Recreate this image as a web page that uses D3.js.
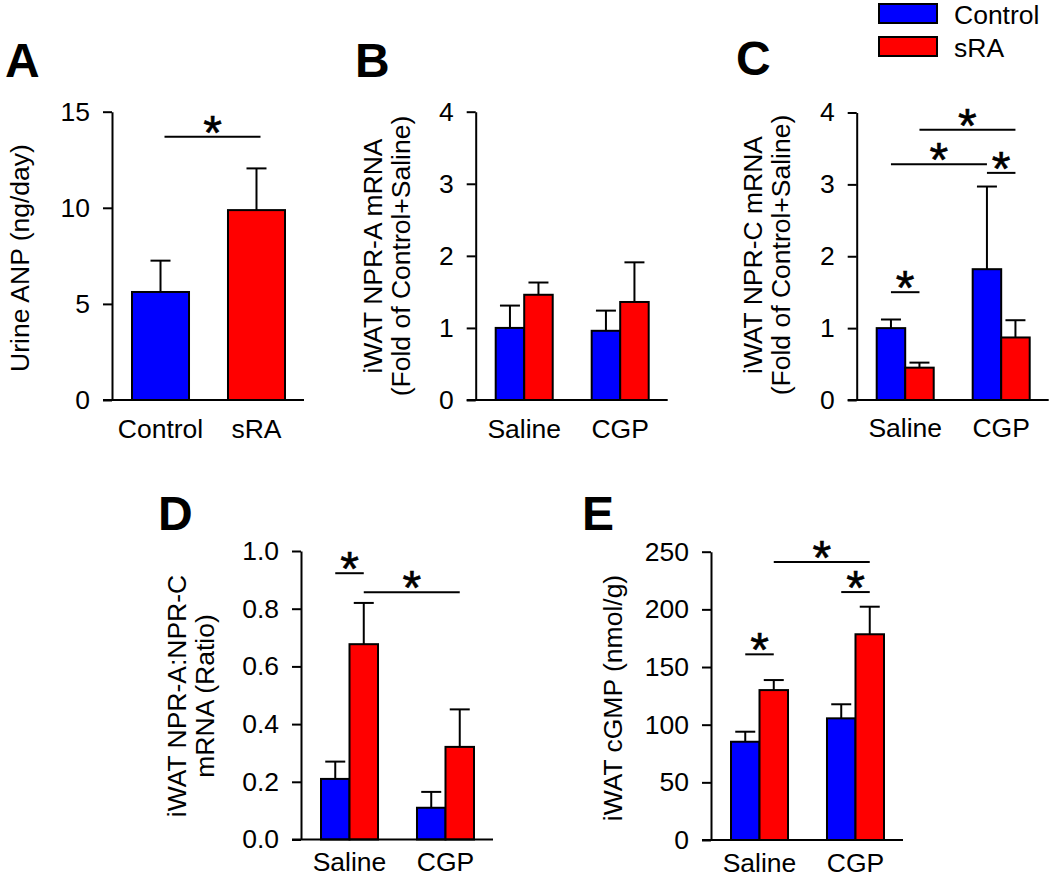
<!DOCTYPE html>
<html><head><meta charset="utf-8">
<script src="https://cdn.jsdelivr.net/npm/d3@7"></script>
<style>body{margin:0;background:#fff} svg{display:block} text{font-family:Arial,"Liberation Sans",sans-serif;}</style>
</head><body><svg id="c" width="1050" height="877"></svg>
<script>
// ---------- data ----------
const seriesNames = ["Control", "sRA"];
const seriesColors = ["#0000ff", "#ff0000"];
const treatments = ["Saline", "CGP"];

// Panel A: Urine ANP
const groupsA = ["Control", "sRA"];
const meanA = [5.62, 9.88];
const semA = [1.63, 2.17];
const ticksA = [0, 5, 10, 15];
const sigA = [["Control", "sRA", 13.7]];

// Panel B: iWAT NPR-A mRNA
const controlB = [1.00, 0.96];
const controlSemB = [0.31, 0.28];
const sraB = [1.46, 1.36];
const sraSemB = [0.17, 0.55];
const ticksB = [0, 1, 2, 3, 4];
const sigB = [];

// Panel C: iWAT NPR-C mRNA
const controlC = [1.00, 1.82];
const controlSemC = [0.12, 1.15];
const sraC = [0.45, 0.87];
const sraSemC = [0.07, 0.24];
const ticksC = [0, 1, 2, 3, 4];
const sigC = [
  ["Saline", "Control", "Saline", "sRA", 1.50],
  ["Saline", "Control", "CGP", "Control", 3.28],
  ["CGP", "Control", "CGP", "sRA", 3.16],
  ["Saline", "sRA", "CGP", "sRA", 3.76]
];

// Panel D: NPR-A:NPR-C ratio
const controlD = [0.21, 0.11];
const controlSemD = [0.06, 0.055];
const sraD = [0.677, 0.321];
const sraSemD = [0.143, 0.13];
const ticksD = [0, 0.2, 0.4, 0.6, 0.8, 1.0];
const sigD = [
  ["Saline", "Control", "Saline", "sRA", 0.923],
  ["Saline", "sRA", "CGP", "sRA", 0.857]
];

// Panel E: iWAT cGMP
const controlE = [85.2, 105.5];
const controlSemE = [8.7, 12.2];
const sraE = [130, 178.4];
const sraSemE = [8.7, 23.9];
const ticksE = [0, 50, 100, 150, 200, 250];
const sigE = [
  ["Saline", "Control", "Saline", "sRA", 161],
  ["CGP", "Control", "CGP", "sRA", 215],
  ["Saline", "sRA", "CGP", "sRA", 241]
];

// ---------- drawing ----------
const svg = d3.select("#c");
const FS = 26.5;
const AXW = 192;

function panelFrame(o) {
  const g = svg.append("g");
  const y = d3.scaleLinear().domain([0, o.yMax]).range([o.y0, o.yTop]);
  g.append("text").attr("x", o.letterX).attr("y", o.letterY)
    .attr("font-size", 48).attr("font-weight", "bold").text(o.letter);
  o.labelLines.forEach((t, i) => {
    g.append("text")
      .attr("transform", `translate(${o.labelBase[i]},${o.labelY}) rotate(-90)`)
      .attr("text-anchor", "middle").attr("font-size", FS).text(t);
  });
  const ya = g.append("g").attr("transform", `translate(${o.axisX},0)`)
    .call(d3.axisLeft(y).tickValues(o.ticks).tickFormat(o.fmt || d3.format("d"))
      .tickSize(9).tickPadding(13).tickSizeOuter(0));
  ya.select(".domain").attr("stroke-width", 2);
  ya.selectAll(".tick line").attr("stroke-width", 2);
  ya.selectAll(".tick text").attr("font-size", FS).attr("font-family", "Arial, 'Liberation Sans', sans-serif");
  return {g, y};
}

function xAxis(g, o, xs) {
  const xa = g.append("g").attr("transform", `translate(0,${o.y0})`)
    .call(d3.axisBottom(xs).tickSize(0).tickPadding(o.xPad));
  xa.select(".domain").remove();
  xa.selectAll(".tick text").attr("font-size", FS).attr("font-family", "Arial, 'Liberation Sans', sans-serif");
  g.append("line").attr("x1", o.axisX - 9).attr("x2", o.axisX + AXW)
    .attr("y1", o.y0).attr("y2", o.y0).attr("stroke", "#000").attr("stroke-width", 2);
}

function drawBars(g, y, bars, y0) {
  bars.forEach(b => {
    g.append("line").attr("x1", b.x + b.w / 2).attr("x2", b.x + b.w / 2)
      .attr("y1", y(b.v)).attr("y2", y(b.v + b.e)).attr("stroke", "#000").attr("stroke-width", 2);
    g.append("line").attr("x1", b.x + b.w / 2 - 10).attr("x2", b.x + b.w / 2 + 10)
      .attr("y1", y(b.v + b.e)).attr("y2", y(b.v + b.e)).attr("stroke", "#000").attr("stroke-width", 2);
    g.append("rect").attr("x", b.x).attr("y", y(b.v)).attr("width", b.w).attr("height", y0 - y(b.v))
      .attr("fill", b.c).attr("stroke", "#000").attr("stroke-width", 2);
  });
}

function drawSig(g, x1, x2, yy) {
  g.append("line").attr("x1", x1).attr("x2", x2).attr("y1", yy).attr("y2", yy)
    .attr("stroke", "#000").attr("stroke-width", 2);
  g.append("text").attr("x", (x1 + x2) / 2).attr("y", yy + 12)
    .attr("text-anchor", "middle").attr("font-size", 48)
    .attr("stroke", "#000").attr("stroke-width", 0.6)
    .attr("font-family", "'Liberation Serif','Times New Roman',serif").text("*");
}

// Panel A
(function () {
  const o = {letter: "A", letterX: 5, letterY: 77, axisX: 112, yTop: 111.7, y0: 400, yMax: 15, xPad: 19,
    ticks: ticksA, labelLines: ["Urine ANP (ng/day)"], labelBase: [29], labelY: 258};
  const {g, y} = panelFrame(o);
  const xs = d3.scaleBand().domain(groupsA).range([o.axisX + 20, o.axisX + 173]).paddingInner(0.406);
  const bars = groupsA.map((k, i) => ({x: xs(k), w: xs.bandwidth(), v: meanA[i], e: semA[i], c: seriesColors[i]}));
  drawBars(g, y, bars, o.y0);
  xAxis(g, o, xs);
  sigA.forEach(s => drawSig(g, xs(s[0]) + xs.bandwidth() / 2 + 4, xs(s[1]) + xs.bandwidth() / 2 + 4, y(s[2])));
})();

function grouped(o, ctrl, ctrlSem, sra, sraSem, sigs) {
  const {g, y} = panelFrame(o);
  const xo = d3.scaleBand().domain(treatments).range([o.axisX + 20, o.axisX + 173]).paddingInner(0.406);
  const xi = d3.scaleBand().domain(seriesNames).range([0, xo.bandwidth()]);
  const vals = [ctrl, sra], sems = [ctrlSem, sraSem];
  const bars = [];
  treatments.forEach((t, ti) => seriesNames.forEach((s, si) => {
    bars.push({x: xo(t) + xi(s), w: xi.bandwidth(), v: vals[si][ti], e: sems[si][ti], c: seriesColors[si]});
  }));
  drawBars(g, y, bars, o.y0);
  xAxis(g, o, xo);
  const cx = (t, s) => xo(t) + xi(s) + xi.bandwidth() / 2;
  sigs.forEach(s => drawSig(g, cx(s[0], s[1]), cx(s[2], s[3]), y(s[4])));
}

grouped({letter: "B", letterX: 355, letterY: 77, axisX: 475.7, yTop: 111.7, y0: 400, yMax: 4, ticks: ticksB, xPad: 19,
  labelLines: ["iWAT NPR-A mRNA", "(Fold of Control+Saline)"], labelBase: [382, 410], labelY: 256},
  controlB, controlSemB, sraB, sraSemB, sigB);

grouped({letter: "C", letterX: 736, letterY: 75, axisX: 856.7, yTop: 112.5, y0: 400, yMax: 4, ticks: ticksC, xPad: 18,
  labelLines: ["iWAT NPR-C mRNA", "(Fold of Control+Saline)"], labelBase: [762, 790], labelY: 255},
  controlC, controlSemC, sraC, sraSemC, sigC);

grouped({letter: "D", letterX: 158, letterY: 530, axisX: 301, yTop: 551, y0: 839.5, yMax: 1.0, ticks: ticksD, xPad: 13,
  fmt: d3.format(".1f"),
  labelLines: ["iWAT NPR-A:NPR-C", "mRNA (Ratio)"], labelBase: [186, 214], labelY: 696},
  controlD, controlSemD, sraD, sraSemD, sigD);

grouped({letter: "E", letterX: 582, letterY: 530, axisX: 711, yTop: 551.7, y0: 840, yMax: 250, ticks: ticksE, xPad: 13,
  labelLines: ["iWAT cGMP (nmol/g)"], labelBase: [622], labelY: 698},
  controlE, controlSemE, sraE, sraSemE, sigE);

// Legend
const leg = svg.append("g");
seriesNames.forEach((s, i) => {
  leg.append("rect").attr("x", 879).attr("y", 4 + i * 33).attr("width", 58).attr("height", 19)
    .attr("fill", seriesColors[i]).attr("stroke", "#000").attr("stroke-width", 2);
  leg.append("text").attr("x", 954).attr("y", 24 + i * 33).attr("font-size", FS).text(s);
});
</script></body></html>
